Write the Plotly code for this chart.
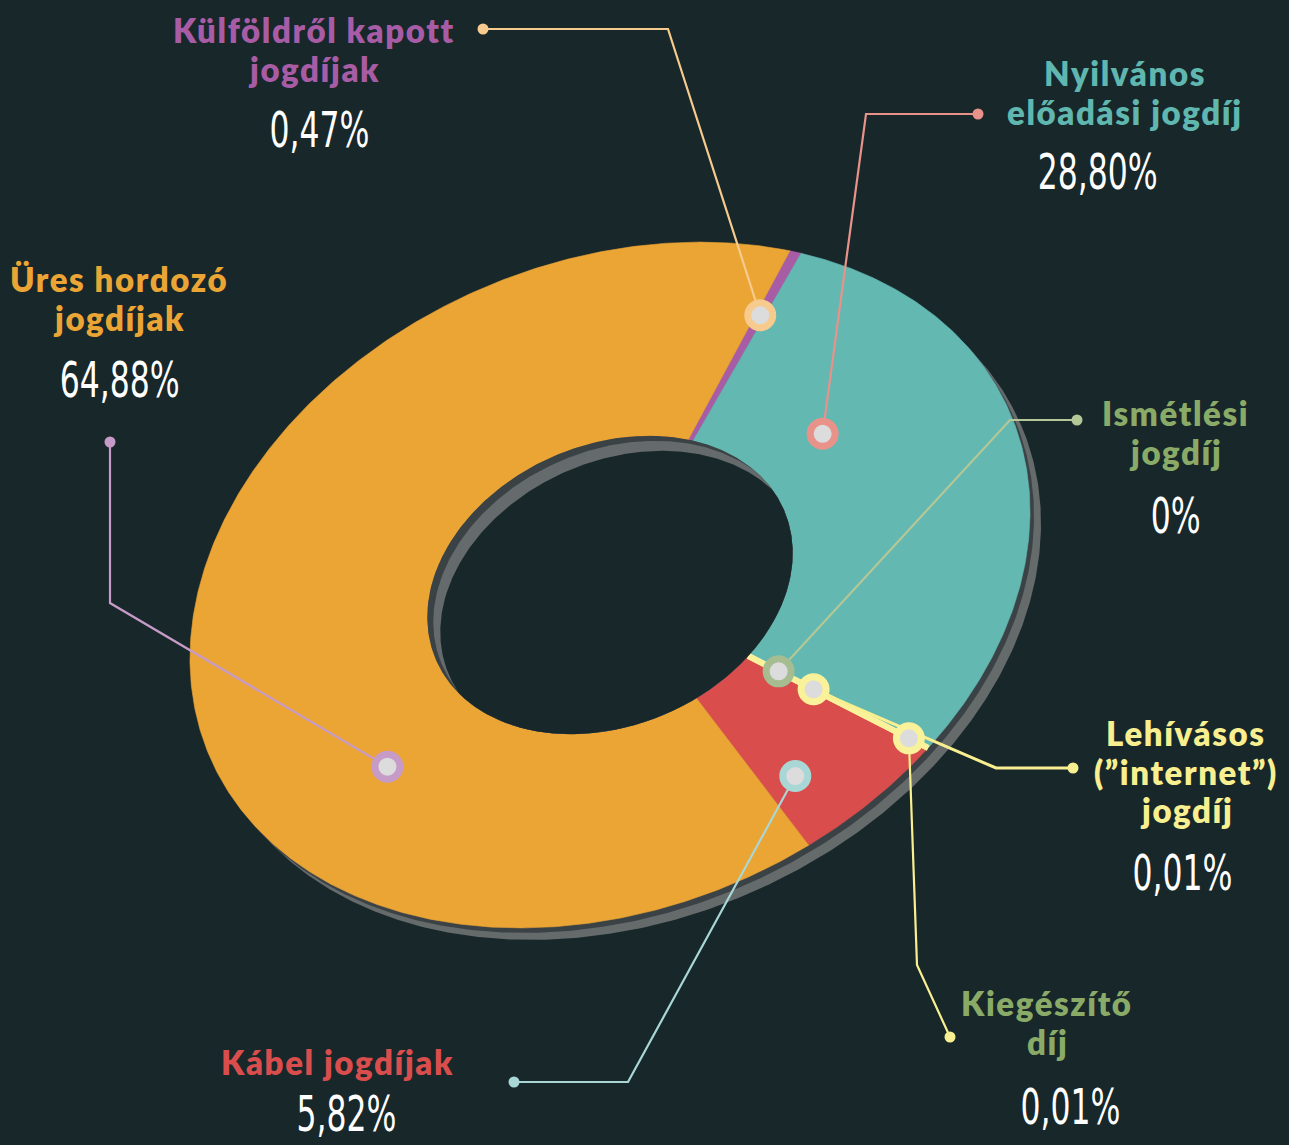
import numpy as np
import plotly.graph_objects as go

# ---------------- data ----------------
categories = [
    "Külföldről kapott jogdíjak",
    "Nyilvános előadási jogdíj",
    "Ismétlési jogdíj",
    "Lehívásos (\u201dinternet\u201d) jogdíj",
    "Kiegészítő díj",
    "Kábel jogdíjak",
    "Üres hordozó jogdíjak",
]
label_lines = [
    ["Külföldről kapott", "jogdíjak"],
    ["Nyilvános", "előadási jogdíj"],
    ["Ismétlési", "jogdíj"],
    ["Lehívásos", "(\u201dinternet\u201d)", "jogdíj"],
    ["Kiegészítő", "díj"],
    ["Kábel jogdíjak"],
    ["Üres hordozó", "jogdíjak"],
]
shares = [0.47, 28.80, 0.0, 0.01, 0.01, 5.82, 64.88]

# ---------------- styles ----------------
BG = "#18272a"
slice_colors = ["#a95ca6", "#63b8b1", "#8fae6d", "#faf29a", "#faf29a", "#d94d4d", "#eba535"]
title_colors = ["#a95ca6", "#5fb7af", "#8aab68", "#f8ef90", "#8aab68", "#d94d4d", "#eba535"]
leader_colors = ["#f6cb8d", "#e8928a", "#b3c797", "#f8ef90", "#f8ef90", "#a9d7d6", "#c79bc8"]
ring_colors = ["#f6cb8d", "#e8928a", "#a5bd90", "#faf29a", "#faf29a", "#a9d7d6", "#c79bc8"]

# label layout (pixel positions): title centre x, first line y, line step
title_pos = [(314, 30), (1125, 73), (1175, 413), (1186, 733), (1047, 1003), (337, 1062), (119, 279)]
LINE_STEP = 38.5
number_pos = [(319, 130), (1097, 172), (1175, 516), (1182, 873), (1070, 1107), (346, 1114), (119, 380)]
leader_dot = [(483, 29), (978, 114), (1077, 420), (1073, 768), (950, 1037), (514, 1082), (110, 442)]
leader_elbow = [(668, 29), (866, 114), (1010, 420), (996, 768), (917, 965), (628, 1082), (110, 603)]
# where the marker sits inside its slice: fraction of slice span, radial fraction
marker_frac = [0.5, 0.28, 0.5, 0.5, 0.5, 0.75, 0.34]
marker_rad = [0.81, 0.61, 0.53, 0.64, 0.94, 0.80, 0.68]

# donut geometry (tilted ellipse)
W, H = 1289, 1145
CX, CY = 610, 585
A, B = 435.5, 323.0
PHI = np.radians(23.2)
HOLE = 0.435
START = 47.0  # parametric angle of first slice start (deg), running clockwise


def ell(t_deg, r, dx=0.0, dy=0.0):
    t = np.radians(np.asarray(t_deg, dtype=float))
    xp = A * np.cos(t) * r
    yp = B * np.sin(t) * r
    x = CX + xp * np.cos(PHI) - yp * np.sin(PHI) + dx
    y = CY - (xp * np.sin(PHI) + yp * np.cos(PHI)) + dy
    return x, y


def inside(x, y, r, dx=0.0, dy=0.0):
    X = x - CX - dx
    Yu = -(y - CY - dy)
    xp = X * np.cos(PHI) + Yu * np.sin(PHI)
    yp = -X * np.sin(PHI) + Yu * np.cos(PHI)
    return (xp / (A * r)) ** 2 + (yp / (B * r)) ** 2 <= 1.0 + 1e-9


def intersection(r, d1, d2, n=720):
    ts = np.linspace(0, 360, n, endpoint=False)
    x1, y1 = ell(ts, r, *d1)
    x2, y2 = ell(ts, r, *d2)
    m1 = inside(x1, y1, r, *d2)
    m2 = inside(x2, y2, r, *d1)
    xs = np.concatenate([x1[m1], x2[m2]])
    ys = np.concatenate([y1[m1], y2[m2]])
    cx = CX + (d1[0] + d2[0]) / 2
    cy = CY + (d1[1] + d2[1]) / 2
    order = np.argsort(np.arctan2(ys - cy, xs - cx))
    return list(xs[order]) + [xs[order][0]], list(ys[order]) + [ys[order][0]]


fig = go.Figure()


def poly(x, y, color, lw=0.0, lcolor=None):
    fig.add_trace(go.Scatter(
        x=list(x), y=list(y), mode="lines", fill="toself", fillcolor=color,
        line=dict(width=lw, color=lcolor or color), hoverinfo="skip", showlegend=False))


# outer rim (3D edge)
ts_full = np.linspace(0, 360, 721)
poly(*ell(ts_full, 1.0, 11, 12), "#656a6b")
poly(*ell(ts_full, 1.0, 4, 5), "#3b4245")

# slices (thin slices drawn last so their outline stays visible)
total = sum(shares)
angle = START
slice_ranges = []
slice_polys = []
for i, v in enumerate(shares):
    span = 360.0 * v / total
    t0, t1 = angle, angle - span
    slice_ranges.append((t0, t1))
    angle = t1
    if v <= 0:
        continue
    n = max(2, int(span * 2) + 2)
    ts = np.linspace(t0, t1, n)
    xo, yo = ell(ts, 1.0)
    xi, yi = ell(ts[::-1], HOLE)
    xs = list(xo) + list(xi) + [xo[0]]
    ys = list(yo) + list(yi) + [yo[0]]
    slice_polys.append((span < 1.0, xs, ys, slice_colors[i]))

for thin, xs, ys, col in sorted(slice_polys, key=lambda p: p[0]):
    poly(xs, ys, col, lw=6.0 if thin else 0.6)

# hole with inner wall
poly(*ell(ts_full, HOLE), "#3b4245")
poly(*intersection(HOLE, (0, 0), (6, 5)), "#656b6c")
poly(*intersection(HOLE, (0, 0), (13, 15)), BG)

# leader lines + markers
for i in range(len(categories)):
    t0, t1 = slice_ranges[i]
    tm = t0 + (t1 - t0) * marker_frac[i]
    mx, my = ell(tm, marker_rad[i])
    mx, my = float(mx), float(my)
    lw = 3 if i == 3 else 2.2
    fig.add_trace(go.Scatter(
        x=[leader_dot[i][0], leader_elbow[i][0], mx],
        y=[leader_dot[i][1], leader_elbow[i][1], my],
        mode="lines", line=dict(color=leader_colors[i], width=lw),
        hoverinfo="skip", showlegend=False))
    fig.add_trace(go.Scatter(
        x=[leader_dot[i][0]], y=[leader_dot[i][1]], mode="markers",
        marker=dict(size=11, color=leader_colors[i]),
        hoverinfo="skip", showlegend=False))
    fig.add_trace(go.Scatter(
        x=[mx], y=[my], mode="markers",
        marker=dict(size=25, color="#dcdcdc", line=dict(width=7, color=ring_colors[i])),
        hoverinfo="skip", showlegend=False))


# labels
def fmt(v):
    return "0%" if v == 0 else f"{v:.2f}".replace(".", ",") + "%"


n_title = 0
for i in range(len(categories)):
    for k, line in enumerate(label_lines[i]):
        fig.add_annotation(
            x=title_pos[i][0], y=title_pos[i][1] + k * LINE_STEP,
            text=f"<span style='letter-spacing:1.6px'>{line}</span>",
            xanchor="center", yanchor="middle", showarrow=False, align="center",
            font=dict(family="Lato, 'Open Sans', sans-serif", size=33,
                      color=title_colors[i], weight=800))
        n_title += 1

for i in range(len(categories)):
    fig.add_annotation(
        x=number_pos[i][0], y=number_pos[i][1], text=fmt(shares[i]),
        xanchor="center", yanchor="middle", showarrow=False,
        font=dict(family="'DejaVu Sans Condensed', 'DejaVu Sans', sans-serif",
                  size=50, color="#ffffff"))

fig.update_layout(
    width=W, height=H, margin=dict(l=0, r=0, t=0, b=0),
    paper_bgcolor=BG, plot_bgcolor=BG,
    xaxis=dict(range=[0, W], visible=False, fixedrange=True),
    yaxis=dict(range=[H, 0], visible=False, fixedrange=True),
    showlegend=False,
)

post = """
var de=document.documentElement; de.style.margin='0'; de.style.background='#18272a'; de.style.overflow='hidden';
var bd=document.body; bd.style.margin='0'; bd.style.padding='0'; bd.style.background='#18272a'; bd.style.overflow='hidden';
var gd=document.getElementById('{plot_id}');
function squeeze(){
  gd.querySelectorAll('g.annotation').forEach(function(g){
    var i=parseInt(g.getAttribute('data-index'));
    if(i>=NTITLE){
      var t=g.querySelector('text.annotation-text');
      if(t){t.style.transformBox='fill-box';t.style.transformOrigin='50% 50%';t.style.transform='scaleX(0.7)';}
    }
  });
}
squeeze();
if(gd.on){gd.on('plotly_afterplot', squeeze);}
""".replace("NTITLE", str(n_title))

fig.write_html("out.html", config={"displayModeBar": False, "staticPlot": True}, post_script=post)
